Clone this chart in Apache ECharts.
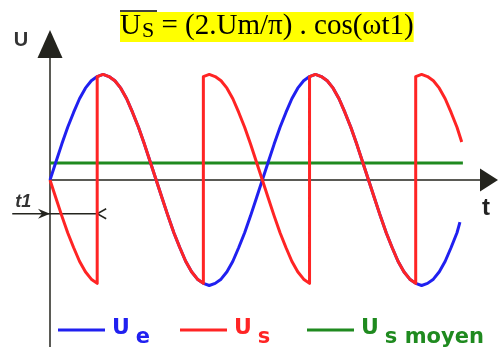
<!DOCTYPE html>
<html>
<head>
<meta charset="utf-8">
<script src="https://cdn.jsdelivr.net/npm/echarts@6/dist/echarts.min.js"></script>
<style>
  html, body { margin: 0; padding: 0; background: #ffffff; }
  #chart { width: 498px; height: 347px; }
</style>
</head>
<body>
<div id="chart"></div>
<script>
// Phase ωt in degrees on the horizontal axis, voltages in units of Um.

// Input voltage Ue: [ωt, value]
const ueData = [
  [0, 0], [10, 0.17], [20, 0.34], [30, 0.5], [40, 0.64], [50, 0.77], [60, 0.87], [70, 0.94], [80, 0.98],
  [90, 1], [100, 0.98], [110, 0.94], [120, 0.87], [130, 0.77], [140, 0.64], [150, 0.5], [160, 0.34], [170, 0.17],
  [180, 0], [190, -0.17], [200, -0.34], [210, -0.5], [220, -0.64], [230, -0.77], [240, -0.87], [250, -0.94], [260, -0.98],
  [270, -1], [280, -0.98], [290, -0.94], [300, -0.87], [310, -0.77], [320, -0.64], [330, -0.5], [340, -0.34], [350, -0.17],
  [360, 0], [370, 0.17], [380, 0.34], [390, 0.5], [400, 0.64], [410, 0.77], [420, 0.87], [430, 0.94], [440, 0.98],
  [450, 1], [460, 0.98], [470, 0.94], [480, 0.87], [490, 0.77], [500, 0.64], [510, 0.5], [520, 0.34], [530, 0.17],
  [540, 0], [550, -0.17], [560, -0.34], [570, -0.5], [580, -0.64], [590, -0.77], [600, -0.87], [610, -0.94], [620, -0.98],
  [630, -1], [640, -0.98], [650, -0.94], [660, -0.87], [670, -0.77], [680, -0.64], [690, -0.5], [695, -0.4]
];

// Output voltage Us (thyristor firing at ωt1, switching between Ue and -Ue): [ωt, value]
const usData = [
  [0, 0], [10, -0.17], [20, -0.34], [30, -0.5], [40, -0.64], [50, -0.77], [60, -0.87], [70, -0.94], [80, -0.98],
  [80, 0.98], [90, 1], [100, 0.98], [110, 0.94], [120, 0.87], [130, 0.77], [140, 0.64], [150, 0.5], [160, 0.34], [170, 0.17],
  [180, 0], [190, -0.17], [200, -0.34], [210, -0.5], [220, -0.64], [230, -0.77], [240, -0.87], [250, -0.94], [260, -0.98],
  [260, 0.98], [270, 1], [280, 0.98], [290, 0.94], [300, 0.87], [310, 0.77], [320, 0.64], [330, 0.5], [340, 0.34], [350, 0.17],
  [360, 0], [370, -0.17], [380, -0.34], [390, -0.5], [400, -0.64], [410, -0.77], [420, -0.87], [430, -0.94], [440, -0.98],
  [440, 0.98], [450, 1], [460, 0.98], [470, 0.94], [480, 0.87], [490, 0.77], [500, 0.64], [510, 0.5], [520, 0.34], [530, 0.17],
  [540, 0], [550, -0.17], [560, -0.34], [570, -0.5], [580, -0.64], [590, -0.77], [600, -0.87], [610, -0.94], [620, -0.98],
  [620, 0.98], [630, 1], [640, 0.98], [650, 0.94], [660, 0.87], [670, 0.77], [680, 0.64], [690, 0.5], [698, 0.36]
];

// Mean output voltage
const usMeanLevel = 0.16;
const usMeanSpan = [0, 700];

// Firing angle ωt1 and the dimension line that marks it
const firingAngle = 80;
const t1LineLevel = -0.32;
const t1LineStart = -64;

// Axis ranges
const phaseRange = [0, 729];
const voltRange = [-1.583, 1.156];

const axisColor = '#24241e';
const blue = '#2020f0';
const red = '#ff2424';
const green = '#1f8a1f';

const chart = echarts.init(document.getElementById('chart'), null, { renderer: 'canvas' });

function legendItem(name, main, sub, color, left) {
  return {
    left: left,
    top: 317,
    padding: 0,
    icon: 'rect',
    itemWidth: 47,
    itemHeight: 3,
    itemGap: 0,
    data: [{ name: name }],
    formatter: function () { return '{u|' + main + '}{s|' + sub + '}'; },
    textStyle: {
      color: color,
      fontFamily: 'DejaVu Sans',
      rich: {
        u: { fontSize: 22, fontWeight: 'bold', color: color, verticalAlign: 'top', lineHeight: 26, padding: [0, 0, 0, 2] },
        s: { fontSize: 21, fontWeight: 'bold', color: color, verticalAlign: 'top', lineHeight: 24, padding: [10, 0, 0, 6] }
      }
    }
  };
}

chart.setOption({
  animation: false,
  backgroundColor: '#ffffff',
  title: {
    text: '{u|U}{s|S}{m| = (2.Um/π) . cos(ωt1)}',
    left: 120,
    top: 12,
    padding: 0,
    backgroundColor: '#ffff00',
    textStyle: {
      fontFamily: 'Liberation Serif',
      fontWeight: 'normal',
      color: '#000000',
      rich: {
        u: { fontFamily: 'Liberation Serif', fontSize: 29, color: '#000', lineHeight: 33, verticalAlign: 'top' },
        s: { fontFamily: 'Liberation Serif', fontSize: 22, color: '#000', lineHeight: 33, verticalAlign: 'top', padding: [8, 0, 0, 1] },
        m: { fontFamily: 'Liberation Serif', fontSize: 29, color: '#000', lineHeight: 33, verticalAlign: 'top' }
      }
    }
  },
  legend: [
    legendItem('Ue', 'U', 'e', blue, 58),
    legendItem('Us', 'U', 's', red, 180),
    legendItem('Us moyen', 'U', 's moyen', green, 307)
  ],
  grid: { left: 50, right: 18, top: 58, bottom: 0, containLabel: false },
  xAxis: {
    type: 'value',
    min: phaseRange[0],
    max: phaseRange[1],
    axisLine: {
      onZero: true,
      symbol: ['none', 'triangle'],
      symbolSize: [23, 18],
      symbolOffset: [0, 9],
      lineStyle: { color: axisColor, width: 1.5 }
    },
    axisTick: { show: false },
    axisLabel: { show: false },
    splitLine: { show: false }
  },
  yAxis: {
    type: 'value',
    min: voltRange[0],
    max: voltRange[1],
    axisLine: {
      onZero: true,
      symbol: ['none', 'triangle'],
      symbolSize: [25, 28],
      symbolOffset: [0, 14],
      lineStyle: { color: axisColor, width: 1.5 }
    },
    axisTick: { show: false },
    axisLabel: { show: false },
    splitLine: { show: false }
  },
  series: [
    {
      name: 'Us moyen',
      type: 'line',
      data: [[usMeanSpan[0], usMeanLevel], [usMeanSpan[1], usMeanLevel]],
      showSymbol: false,
      symbol: 'none',
      lineStyle: { color: green, width: 3 },
      itemStyle: { color: green },
      clip: false
    },
    {
      name: 'Ue',
      type: 'line',
      data: ueData,
      showSymbol: false,
      symbol: 'none',
      lineStyle: { color: blue, width: 3 },
      itemStyle: { color: blue },
      clip: false
    },
    {
      name: 'Us',
      type: 'line',
      data: usData,
      showSymbol: false,
      symbol: 'none',
      lineStyle: { color: red, width: 3, join: 'round' },
      itemStyle: { color: red },
      clip: false
    }
  ]
});

// Axis names and the ωt1 dimension marker, placed through the grid's scales
const toPx = (pt) => chart.convertToPixel({ gridIndex: 0 }, pt);
const origin = toPx([0, 0]);
const topEnd = toPx([0, voltRange[1]]);
const rightEnd = toPx([phaseRange[1], 0]);
const mStart = toPx([t1LineStart, t1LineLevel]);
const mZero = toPx([0, t1LineLevel]);
const mFire = toPx([firingAngle, t1LineLevel]);
const y = mZero[1];

chart.setOption({
  graphic: [
    {
      type: 'text',
      style: {
        x: origin[0] - 29, y: topEnd[1] - 18, text: 'U',
        font: 'bold 20px "Liberation Sans"', fill: '#333333',
        align: 'center', verticalAlign: 'middle'
      }
    },
    {
      type: 'text',
      style: {
        x: rightEnd[0] + 6, y: origin[1] + 28, text: 't',
        font: 'bold 24px "Liberation Sans"', fill: '#222222',
        align: 'center', verticalAlign: 'middle'
      }
    },
    {
      type: 'text',
      style: {
        x: mStart[0] + 3, y: y - 12, text: 't1',
        font: 'italic bold 18px "Liberation Sans"', fill: '#333333',
        align: 'left', verticalAlign: 'middle'
      }
    },
    {
      type: 'polyline',
      shape: { points: [mStart, mFire] },
      style: { stroke: axisColor, lineWidth: 1.5, fill: null }
    },
    {
      type: 'polygon',
      shape: { points: [[mZero[0], y], [mZero[0] - 12, y - 5], [mZero[0] - 8, y], [mZero[0] - 12, y + 5]] },
      style: { fill: axisColor }
    },
    {
      type: 'polyline',
      shape: { points: [[mFire[0] + 9, y - 5], [mFire[0], y], [mFire[0] + 9, y + 5]] },
      style: { stroke: axisColor, lineWidth: 1.5, fill: null }
    },
    {
      type: 'line',
      shape: { x1: 120, y1: 11, x2: 157, y2: 11 },
      style: { stroke: '#000000', lineWidth: 1.5 }
    }
  ]
});
</script>
</body>
</html>
